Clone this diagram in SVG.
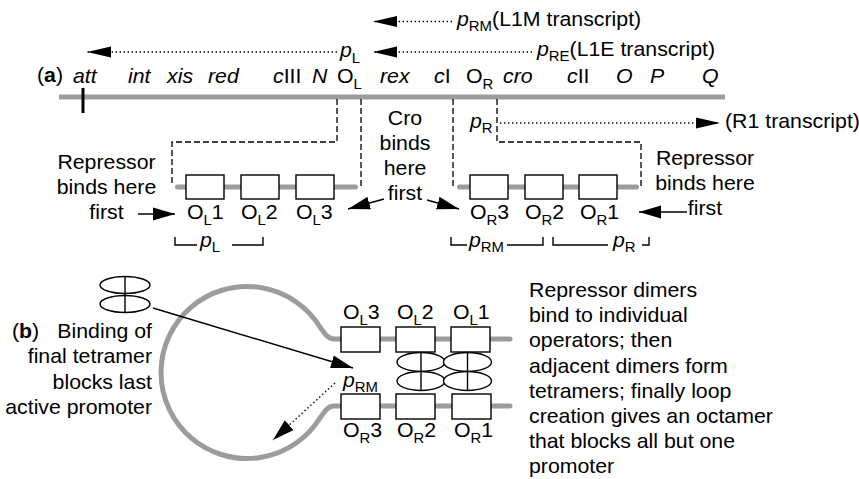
<svg xmlns="http://www.w3.org/2000/svg" width="859" height="479" viewBox="0 0 859 479">
<style>
.t{font-family:"Liberation Sans",Arial,Helvetica,sans-serif;font-size:20px;fill:#000}
.i{font-style:italic}
.s{font-size:14px}
.b{font-weight:bold}
.dna{stroke:#9c9c9c;stroke-width:5;fill:none}
.rd{stroke-linecap:round}
.box{fill:#fff;stroke:#000;stroke-width:1.4}
.dash{fill:none;stroke:#000;stroke-width:1.3;stroke-dasharray:6 3}
.dot{fill:none;stroke:#000;stroke-width:1.4;stroke-dasharray:1.4 2.6}
.ln{fill:none;stroke:#000;stroke-width:1.4}
.ell{fill:#fff;stroke:#000;stroke-width:1.4}
</style>
<defs>
<marker id="ah" markerUnits="userSpaceOnUse" markerWidth="24" markerHeight="12" viewBox="0 0 24 12" refX="24" refY="6" orient="auto"><path d="M0,0.5 L24,6 L0,11.5 z" fill="#000"/></marker>
<marker id="ahb" markerUnits="userSpaceOnUse" markerWidth="22" markerHeight="14" viewBox="0 0 22 14" refX="22" refY="7" orient="auto"><path d="M0,0.5 L22,7 L0,13.5 z" fill="#000"/></marker>
</defs>
<rect width="859" height="479" fill="#fff"/>

<!-- (a) genetic map -->
<g id="map">
<line class="dna" x1="59" y1="97" x2="725" y2="97"/>
<line x1="83" y1="88" x2="83" y2="113" stroke="#000" stroke-width="3"/>
</g>
<g id="panel-a-label"><g transform="translate(37,82) scale(1.065,1)"><text class="t">(<tspan class="b">a</tspan>)</text></g></g>
<g id="genes">
<g transform="translate(73,83) scale(1.065,1)"><text class="t i">att</text></g>
<g transform="translate(128,83) scale(1.065,1)"><text class="t i">int</text></g>
<g transform="translate(167,83) scale(1.065,1)"><text class="t i">xis</text></g>
<g transform="translate(208,83) scale(1.065,1)"><text class="t i">red</text></g>
<g transform="translate(273,83) scale(1.065,1)"><text class="t"><tspan class="i">c</tspan>III</text></g>
<g transform="translate(312,83) scale(1.065,1)"><text class="t i">N</text></g>
<g transform="translate(337,83) scale(1.065,1)"><text class="t">O<tspan class="s" dy="6">L</tspan></text></g>
<g transform="translate(380,83) scale(1.065,1)"><text class="t i">rex</text></g>
<g transform="translate(434,83) scale(1.065,1)"><text class="t"><tspan class="i">c</tspan>I</text></g>
<g transform="translate(466,83) scale(1.065,1)"><text class="t">O<tspan class="s" dy="6">R</tspan></text></g>
<g transform="translate(503,83) scale(1.065,1)"><text class="t i">cro</text></g>
<g transform="translate(567,83) scale(1.065,1)"><text class="t"><tspan class="i">c</tspan>II</text></g>
<g transform="translate(616,83) scale(1.065,1)"><text class="t i">O</text></g>
<g transform="translate(650,83) scale(1.065,1)"><text class="t i">P</text></g>
<g transform="translate(702,83) scale(1.065,1)"><text class="t i">Q</text></g>
</g>

<!-- promoter / transcript labels -->
<g id="transcripts">
<g transform="translate(457,26) scale(1.065,1)"><text class="t"><tspan class="i">p</tspan><tspan class="s" dy="5">RM</tspan><tspan dy="-5">(L1M transcript)</tspan></text></g>
<g transform="translate(537,56) scale(1.065,1)"><text class="t"><tspan class="i">p</tspan><tspan class="s" dy="5">RE</tspan><tspan dy="-5">(L1E transcript)</tspan></text></g>
<g transform="translate(340,57) scale(1.065,1)"><text class="t"><tspan class="i">p</tspan><tspan class="s" dy="6">L</tspan></text></g>
<g transform="translate(470,128) scale(1.065,1)"><text class="t"><tspan class="i">p</tspan><tspan class="s" dy="5">R</tspan></text></g>
<g transform="translate(725,128) scale(1.065,1)"><text class="t">(R1 transcript)</text></g>
</g>

<!-- left operator region -->
<g id="OL-region">
<line class="dna rd" x1="177.5" y1="187" x2="355.5" y2="187"/>
<rect class="box" x="186" y="175" width="38" height="24"/>
<rect class="box" x="241" y="175" width="38" height="24"/>
<rect class="box" x="296" y="175" width="38" height="24"/>
<g transform="translate(187,219) scale(1.065,1)"><text class="t">O<tspan class="s" dy="6">L</tspan><tspan dy="-6">1</tspan></text></g>
<g transform="translate(241,219) scale(1.065,1)"><text class="t">O<tspan class="s" dy="6">L</tspan><tspan dy="-6">2</tspan></text></g>
<g transform="translate(296,219) scale(1.065,1)"><text class="t">O<tspan class="s" dy="6">L</tspan><tspan dy="-6">3</tspan></text></g>
<path class="ln" d="M175,237 V245 H197 M232,245 H263 V237"/>
<g transform="translate(200,247) scale(1.065,1)"><text class="t"><tspan class="i">p</tspan><tspan class="s" dy="5">L</tspan></text></g>
</g>

<!-- right operator region -->
<g id="OR-region">
<line class="dna rd" x1="459.5" y1="187" x2="636.5" y2="187"/>
<rect class="box" x="470" y="175" width="38" height="24"/>
<rect class="box" x="525" y="175" width="38" height="24"/>
<rect class="box" x="579" y="175" width="38" height="24"/>
<g transform="translate(470,219) scale(1.065,1)"><text class="t">O<tspan class="s" dy="6">R</tspan><tspan dy="-6">3</tspan></text></g>
<g transform="translate(525,219) scale(1.065,1)"><text class="t">O<tspan class="s" dy="6">R</tspan><tspan dy="-6">2</tspan></text></g>
<g transform="translate(580,219) scale(1.065,1)"><text class="t">O<tspan class="s" dy="6">R</tspan><tspan dy="-6">1</tspan></text></g>
<path class="ln" d="M451,237 V245 H467 M507,245 H543 V237"/>
<g transform="translate(469,247) scale(1.065,1)"><text class="t"><tspan class="i">p</tspan><tspan class="s" dy="5">RM</tspan></text></g>
<path class="ln" d="M553,237 V245 H608 M642,245 H649 V237"/>
<g transform="translate(613,247) scale(1.065,1)"><text class="t"><tspan class="i">p</tspan><tspan class="s" dy="5">R</tspan></text></g>
</g>

<g id="note-left-a" class="t" text-anchor="middle">
<g transform="translate(106.5,169) scale(1.065,1)"><text class="t" text-anchor="middle">Repressor<tspan x="0" dy="25">binds here</tspan><tspan x="0" dy="25">first</tspan></text></g>
</g>
<g id="note-right-a">
<g transform="translate(705,165) scale(1.065,1)"><text class="t" text-anchor="middle">Repressor<tspan x="0" dy="25">binds here</tspan><tspan x="0" dy="25">first</tspan></text></g>
</g>
<g id="note-cro">
<g transform="translate(405,125) scale(1.065,1)"><text class="t" text-anchor="middle">Cro<tspan x="0" dy="25">binds</tspan><tspan x="0" dy="25">here</tspan><tspan x="0" dy="25">first</tspan></text></g>
</g>

<!-- (b) looped complex -->
<g id="panel-b-label"><g transform="translate(12,338) scale(1.065,1)"><text class="t">(<tspan class="b">b</tspan>)</text></g></g>
<g id="note-left-b">
<g transform="translate(152,338) scale(1.065,1)"><text class="t" text-anchor="end">Binding of<tspan x="0" dy="25.3">final tetramer</tspan><tspan x="0" dy="25.3">blocks last</tspan><tspan x="0" dy="25.3">active promoter</tspan></text></g>
</g>
<g id="free-tetramer">
<ellipse class="ell" cx="125" cy="285" rx="25" ry="8.5"/>
<ellipse class="ell" cx="125" cy="304" rx="25" ry="8.5"/>
<line class="ln" x1="125" y1="276.5" x2="125" y2="312.5"/>
</g>
<g id="loop">
<path class="dna rd" d="M510,339 H334 C328,339 325,334 320.3,327.5 A86,86 0 1 0 320.3,417.5 C325,411 328,406 334,406 H510"/>
</g>
<g id="operators-b">
<rect class="box" x="341" y="327" width="39" height="25"/>
<rect class="box" x="396" y="327" width="39" height="25"/>
<rect class="box" x="451" y="327" width="39" height="25"/>
<rect class="box" x="341" y="394" width="39" height="25"/>
<rect class="box" x="396" y="394" width="39" height="25"/>
<rect class="box" x="452" y="394" width="39" height="25"/>
<g transform="translate(343,319) scale(1.065,1)"><text class="t">O<tspan class="s" dy="6">L</tspan><tspan dy="-6">3</tspan></text></g>
<g transform="translate(397,319) scale(1.065,1)"><text class="t">O<tspan class="s" dy="6">L</tspan><tspan dy="-6">2</tspan></text></g>
<g transform="translate(453,319) scale(1.065,1)"><text class="t">O<tspan class="s" dy="6">L</tspan><tspan dy="-6">1</tspan></text></g>
<g transform="translate(343,437) scale(1.065,1)"><text class="t">O<tspan class="s" dy="6">R</tspan><tspan dy="-6">3</tspan></text></g>
<g transform="translate(397,437) scale(1.065,1)"><text class="t">O<tspan class="s" dy="6">R</tspan><tspan dy="-6">2</tspan></text></g>
<g transform="translate(454,437) scale(1.065,1)"><text class="t">O<tspan class="s" dy="6">R</tspan><tspan dy="-6">1</tspan></text></g>
<g transform="translate(343,387) scale(1.065,1)"><text class="t"><tspan class="i">p</tspan><tspan class="s" dy="5">RM</tspan></text></g>
</g>
<g id="bound-tetramers">
<ellipse class="ell" cx="421" cy="362" rx="24" ry="9.5"/>
<ellipse class="ell" cx="421" cy="381" rx="24" ry="9.5"/>
<line class="ln" x1="421" y1="352.5" x2="421" y2="390.5"/>
<ellipse class="ell" cx="467.5" cy="362" rx="24" ry="9.5"/>
<ellipse class="ell" cx="467.5" cy="381" rx="24" ry="9.5"/>
<line class="ln" x1="467.5" y1="352.5" x2="467.5" y2="390.5"/>
</g>
<g id="note-right-b">
<g transform="translate(529,297) scale(1.065,1)"><text class="t">Repressor dimers<tspan x="0" dy="25.2">bind to individual</tspan><tspan x="0" dy="25.2">operators; then</tspan><tspan x="0" dy="25.2">adjacent dimers form</tspan><tspan x="0" dy="25.2">tetramers; finally loop</tspan><tspan x="0" dy="25.2">creation gives an octamer</tspan><tspan x="0" dy="25.2">that blocks all but one</tspan><tspan x="0" dy="25.2">promoter</tspan></text></g>
</g>

<!-- connectors -->
<g id="connectors">
<path class="dash" d="M337,99 V142 H172 V186"/>
<path class="dash" d="M361,99 V187"/>
<path class="dash" d="M453,99 V186"/>
<path class="dash" d="M497,99 V142 H641 V186"/>
<path class="dot" d="M452,21.5 H373" marker-end="url(#ah)"/>
<path class="dot" d="M532,52 H373" marker-end="url(#ah)"/>
<path class="dot" d="M337,52 H87" marker-end="url(#ah)"/>
<path class="dot" d="M500,123 H720" marker-end="url(#ah)"/>
<path class="ln" d="M138,214 H175" marker-end="url(#ahb)"/>
<path class="ln" d="M687,212 H639" marker-end="url(#ahb)"/>
<path class="ln" d="M384,199 L348,209" marker-end="url(#ahb)"/>
<path class="ln" d="M427,200 L459,209" marker-end="url(#ahb)"/>
<path class="ln" d="M153,308 L353,368" marker-end="url(#ahb)"/>
<path class="dot" d="M335,383 L273,440" marker-end="url(#ahb)"/>
</g>
</svg>
